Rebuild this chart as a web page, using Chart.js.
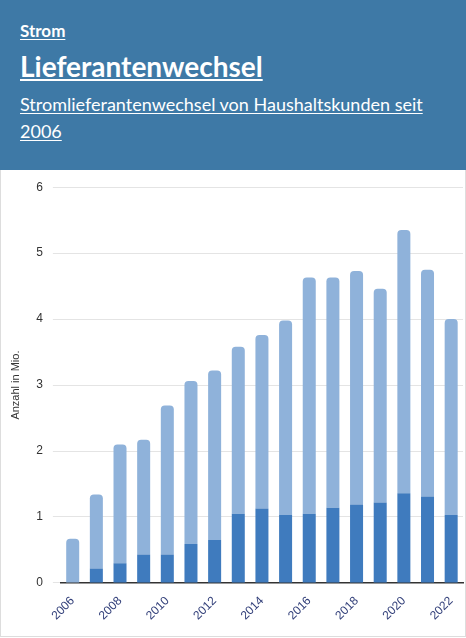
<!DOCTYPE html>
<html><head><meta charset="utf-8">
<script src="https://cdn.jsdelivr.net/npm/chart.js@4"></script>
<style>
body{margin:0;width:466px;height:638px;overflow:hidden;background:#fff;font-family:"Open Sans",sans-serif}
#hd{background:#3e79a6;height:170px;box-sizing:border-box;padding:18px 20px;color:#fff}
#hd a{color:#fff;text-decoration:underline;text-underline-offset:2px}
.k{font-family:Lato,sans-serif;font-weight:bold;font-size:17px;margin-top:2px}
.t{font-family:Lato,sans-serif;font-weight:bold;font-size:28px;margin-top:8px}
.s{font-family:Lato,sans-serif;font-size:18px;line-height:27px;margin-top:8px}
#wrap{position:absolute;top:170px;left:0;width:464px;height:466px;border:1px solid #ddd;border-top:none}
</style></head><body>
<div id="hd"><div class="k"><a>Strom</a></div><div class="t"><a>Lieferantenwechsel</a></div><div class="s"><a>Stromlieferantenwechsel von Haushaltskunden seit 2006</a></div></div>
<div id="wrap"><canvas id="c" width="464" height="466"></canvas></div>
<script>
const years=["2006","2007","2008","2009","2010","2011","2012","2013","2014","2015","2016","2017","2018","2019","2020","2021","2022"];
const base=[0,0.22,0.30,0.43,0.43,0.59,0.65,1.05,1.13,1.03,1.05,1.14,1.19,1.22,1.36,1.31,1.03];
const rest=[0.67,1.12,1.80,1.74,2.26,2.47,2.57,2.53,2.63,2.95,3.58,3.49,3.54,3.24,3.99,3.44,2.97];
new Chart(document.getElementById('c'),{type:'bar',
data:{labels:years,datasets:[
{data:base,backgroundColor:'#3f7bbe',barPercentage:0.55,categoryPercentage:1},
{data:rest,backgroundColor:'#8fb2da',barPercentage:0.55,categoryPercentage:1,borderRadius:{topLeft:4,topRight:4},borderSkipped:'bottom'}]},
options:{responsive:false,animation:false,maintainAspectRatio:false,
layout:{padding:{top:12,right:2,left:4,bottom:10}},
plugins:{legend:{display:false},tooltip:{enabled:false}},
scales:{
x:{stacked:true,grid:{display:false},border:{color:'#333',width:1.5},ticks:{color:'#33407a',font:{size:12,family:'Arial'},maxRotation:45,minRotation:45}},
y:{stacked:true,min:0,max:6,ticks:{stepSize:1,color:'#333',font:{size:12,family:'Arial'},padding:10},grid:{color:'#e4e4e4'},border:{display:false},
title:{display:true,text:'Anzahl in Mio.',color:'#333',font:{size:11,family:'Arial'}}}}}});
</script>
</body></html>
